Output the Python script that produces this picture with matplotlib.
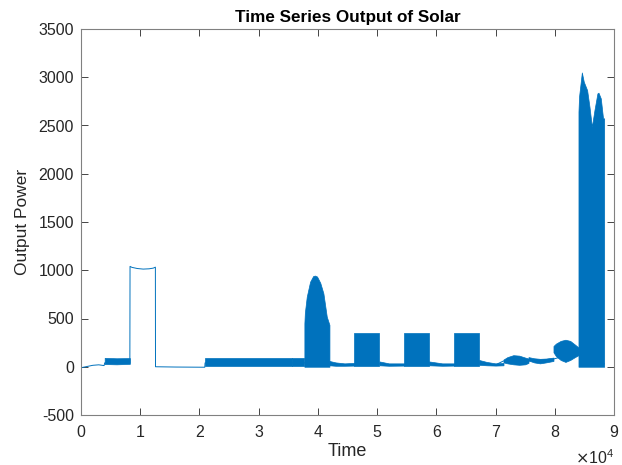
import matplotlib
matplotlib.use("Agg")
import matplotlib.pyplot as plt
import numpy as np

plt.rcParams['font.family'] = ['Liberation Sans', 'DejaVu Sans']

# ---- thin trace (baseline / plateau portions) ----
trace_x = [0, 800, 2000, 3000, 3900, 4000, 8250, 8280, 8600, 9500, 10500, 11500,
           12200, 12560, 12580, 16000, 20900, 20950, 37700, 42000, 43000, 45000,
           46100, 50400, 52000, 54500, 58800, 61000, 63000, 67230, 68000, 70000,
           71340, 75560, 79780, 84000, 88340]
trace_y = [-10, 0, 15, 20, 12, 40, 40, 1040, 1030, 1018, 1012, 1015,
           1022, 1032, 0, -3, -5, 40, 40, 30, 20, 15,
           20, 30, 20, 20, 30, 15, 20, 40, 30, 20,
           60, 60, 80, 150, 30]

# ---- dense oscillating bands: x, upper envelope, lower envelope ----
band1_x = [4000, 6000, 8250]
band1_hi = [92, 88, 90]
band1_lo = [28, 25, 30]

band2_x = [20950, 35550]
band2_hi = [95, 95]
band2_lo = [5, 5]

band3_x = [35700, 37720]
band3_hi = [95, 95]
band3_lo = [5, 5]

hump_x = [37720, 37800, 38120, 38680, 39200, 39500, 39860, 40400, 40930, 41500, 41950]
hump_hi = [450, 560, 726, 881, 940, 945, 935, 870, 761, 519, 434]
hump_lo = [0, 0, 0, 0, 0, 0, 0, 0, 0, 0, 0]

noise1_x = [41950, 43000, 44500, 46110]
noise1_hi = [60, 45, 35, 40]
noise1_lo = [15, 10, 10, 12]

sq1_x = [46110, 50390]
sq1_hi = [350, 350]
sq1_lo = [12, 12]

noise2_x = [50390, 52000, 54560]
noise2_hi = [55, 35, 35]
noise2_lo = [15, 10, 12]

sq2_x = [54560, 58780]
sq2_hi = [350, 350]
sq2_lo = [12, 12]

noise3_x = [58780, 61000, 63010]
noise3_hi = [55, 35, 35]
noise3_lo = [15, 10, 12]

sq3_x = [63010, 67230]
sq3_hi = [350, 350]
sq3_lo = [12, 12]

noise4_x = [67230, 68500, 70000, 71340]
noise4_hi = [70, 50, 35, 40]
noise4_lo = [20, 15, 12, 15]

lens1_x = [71340, 72000, 73000, 74000, 75000, 75560]
lens1_hi = [75, 100, 120, 115, 95, 85]
lens1_lo = [45, 35, 25, 20, 25, 40]

lens2_x = [75560, 76500, 77500, 78500, 79780]
lens2_hi = [100, 88, 82, 85, 95]
lens2_lo = [65, 45, 35, 45, 60]

lens3_x = [79780, 80200, 81000, 81800, 82600, 83400, 84000]
lens3_hi = [215, 240, 268, 280, 268, 230, 200]
lens3_lo = [150, 110, 70, 50, 70, 100, 120]

main_x = [84000, 84100, 84570, 84900, 85460, 85860, 86260, 86700, 87200, 87380,
          87770, 88150, 88340]
main_hi = [2643, 2800, 3050, 2953, 2867, 2694, 2487, 2660, 2833, 2840,
           2781, 2574, 2574]
main_lo = [0, 0, 0, 0, 0, 0, 0, 0, 0, 0, 0, 0, 0]

bands = [
    (band1_x, band1_hi, band1_lo),
    (band2_x, band2_hi, band2_lo),
    (band3_x, band3_hi, band3_lo),
    (hump_x, hump_hi, hump_lo),
    (noise1_x, noise1_hi, noise1_lo),
    (sq1_x, sq1_hi, sq1_lo),
    (noise2_x, noise2_hi, noise2_lo),
    (sq2_x, sq2_hi, sq2_lo),
    (noise3_x, noise3_hi, noise3_lo),
    (sq3_x, sq3_hi, sq3_lo),
    (noise4_x, noise4_hi, noise4_lo),
    (lens1_x, lens1_hi, lens1_lo),
    (lens2_x, lens2_hi, lens2_lo),
    (lens3_x, lens3_hi, lens3_lo),
    (main_x, main_hi, main_lo),
]

x_ticks = [0, 10000, 20000, 30000, 40000, 50000, 60000, 70000, 80000, 90000]
x_tick_labels = ['0', '1', '2', '3', '4', '5', '6', '7', '8', '9']
y_ticks = [-500, 0, 500, 1000, 1500, 2000, 2500, 3000, 3500]
y_tick_labels = ['-500', '0', '500', '1000', '1500', '2000', '2500', '3000', '3500']

line_color = '#0072BD'
axis_color = '#262626'

fig = plt.figure(figsize=(6.22, 4.65), dpi=100)
ax = fig.add_axes([81 / 622, 50 / 465, 533 / 622, 386 / 465])

ax.plot(trace_x, trace_y, color=line_color, lw=0.7)
for bx, bhi, blo in bands:
    ax.fill_between(bx, blo, bhi, color=line_color, lw=0.5, edgecolor=line_color)

ax.set_xlim(0, 90000)
ax.set_ylim(-500, 3500)
ax.set_xticks(x_ticks)
ax.set_xticklabels(x_tick_labels)
ax.set_yticks(y_ticks)
ax.set_yticklabels(y_tick_labels)

ax.tick_params(direction='in', length=5, width=0.6, colors=axis_color,
               labelsize=11.5, top=True, right=True)
ax.tick_params(axis='x', pad=7)
ax.tick_params(axis='y', pad=5)
for sp in ax.spines.values():
    sp.set_color('#808080')
    sp.set_linewidth(0.8)

ax.set_xlabel('Time', fontsize=13, color=axis_color, labelpad=2)
ax.set_ylabel('Output Power', fontsize=12.5, color=axis_color, labelpad=6)
ax.set_title('Time Series Output of Solar', fontsize=12.3, fontweight='bold',
             color='black', pad=5)
ax.text(1.0, -0.085, r'$\times\mathregular{10^{4}}$', transform=ax.transAxes,
        ha='right', va='top', fontsize=11.5, color=axis_color)

fig.savefig('out.png', dpi=100)
